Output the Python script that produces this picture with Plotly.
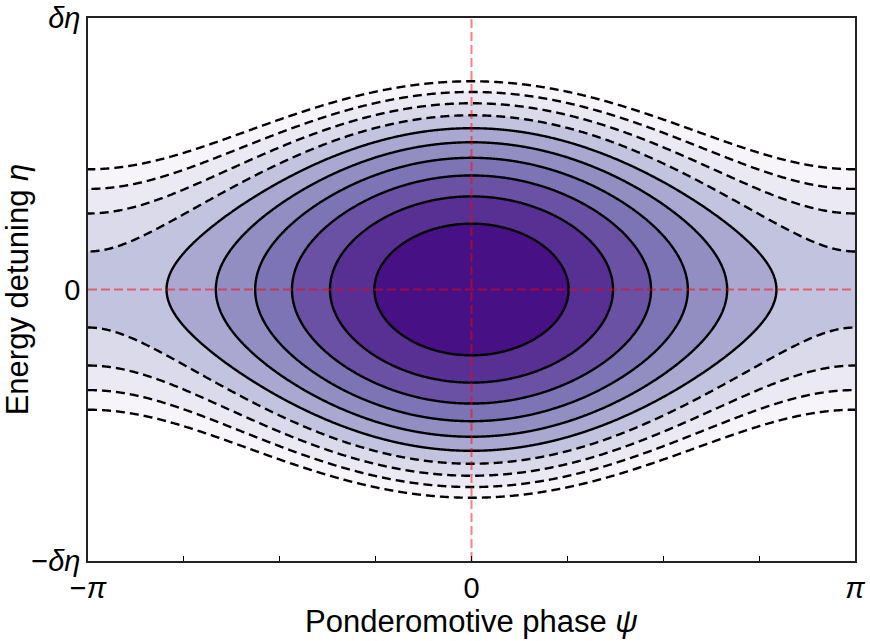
import numpy as np
import plotly.graph_objects as go

# Pendulum Hamiltonian H(psi, eta) = K * eta^2 + (1 - cos psi), eta in units of delta-eta
K_ETA = 5.1
SOLID_LEVELS = [0.3, 0.6, 0.9, 1.2, 1.5, 1.8]      # closed (trapped) orbits
DASHED_LEVELS = [2.1, 2.4, 2.7, 3.0]              # open (passing) orbits
LEVEL_STEP = 0.3

# colorbrewer "Purples" stops
PURPLES = ["#fcfbfd", "#efedf5", "#dadaeb", "#bcbddc", "#9e9ac8",
           "#807dba", "#6a51a3", "#54278f", "#3f007d"]

X_TICKVALS = [-np.pi, -3*np.pi/4, -np.pi/2, -np.pi/4, 0, np.pi/4, np.pi/2, 3*np.pi/4, np.pi]
X_TICKTEXT = ["\u2212<i>\u03c0</i>", "", "", "", "0", "", "", "", "<i>\u03c0</i>"]
Y_TICKVALS = [-1, 0, 1]
Y_TICKTEXT = ["\u2212<i>\u03b4\u03b7</i>", "0", "<i>\u03b4\u03b7</i>"]


def hex_rgb(h):
    h = h.lstrip("#")
    return np.array([int(h[i:i + 2], 16) for i in (0, 2, 4)], float)


def purples(t):
    pos = t * (len(PURPLES) - 1)
    i = min(int(np.floor(pos)), len(PURPLES) - 2)
    f = pos - i
    c = (1 - f) * hex_rgb(PURPLES[i]) + f * hex_rgb(PURPLES[i + 1])
    return "rgb(%d,%d,%d)" % tuple(np.round(c).astype(int))


all_levels = SOLID_LEVELS + DASHED_LEVELS
n_bands = len(all_levels)
# band k (between level k-1 and k) takes the colour at its midpoint, darkest at the centre
band_colors = [purples(1 - (k + 0.5) / n_bands) for k in range(n_bands)] + ["rgb(255,255,255)"]
nb = len(band_colors)
colorscale = []
for k, c in enumerate(band_colors):
    lo = max(0.0, (k - 0.5) / (nb - 1))
    hi = min(1.0, (k + 0.5) / (nb - 1))
    colorscale.append([lo, c])
    colorscale.append([hi, c])

psi = np.linspace(-np.pi, np.pi, 700)
eta = np.linspace(-1, 1, 600)
P, E = np.meshgrid(psi, eta)
H = K_ETA * E**2 + (1 - np.cos(P))

fig = go.Figure()

fig.add_trace(go.Contour(
    x=psi, y=eta, z=H,
    contours=dict(start=all_levels[0], end=all_levels[-1], size=LEVEL_STEP, coloring="fill"),
    colorscale=colorscale, showscale=False, line=dict(width=0), hoverinfo="skip",
))

fig.add_trace(go.Contour(
    x=psi, y=eta, z=H,
    contours=dict(start=SOLID_LEVELS[0], end=SOLID_LEVELS[-1], size=LEVEL_STEP, coloring="lines"),
    colorscale=[[0, "black"], [1, "black"]], showscale=False,
    line=dict(width=2.4, color="black"), hoverinfo="skip",
))

fig.add_trace(go.Contour(
    x=psi, y=eta, z=H,
    contours=dict(start=DASHED_LEVELS[0], end=DASHED_LEVELS[-1], size=LEVEL_STEP, coloring="lines"),
    colorscale=[[0, "black"], [1, "black"]], showscale=False,
    line=dict(width=2.4, color="black", dash="9px,5px"), hoverinfo="skip",
))

# reference axes through the fixed point
red = "rgba(255,0,0,0.5)"
fig.add_trace(go.Scatter(x=[-np.pi, np.pi], y=[0, 0], mode="lines",
                         line=dict(color=red, width=2, dash="9px,4px"), hoverinfo="skip"))
fig.add_trace(go.Scatter(x=[0, 0], y=[-1, 1], mode="lines",
                         line=dict(color=red, width=2, dash="9px,4px"), hoverinfo="skip"))

tick_font = dict(family="Liberation Sans, Arial, sans-serif", size=29, color="black")
title_font = dict(family="Liberation Sans, Arial, sans-serif", size=31, color="black")
fig.update_layout(
    width=870, height=641,
    margin=dict(l=88, r=15, t=18, b=80),
    paper_bgcolor="white", plot_bgcolor="white",
    showlegend=False, font=tick_font,
    xaxis=dict(range=[-np.pi, np.pi], tickvals=X_TICKVALS, ticktext=X_TICKTEXT,
               ticks="inside", ticklen=5, tickwidth=1, tickcolor="black",
               showgrid=False, zeroline=False, showline=True, linecolor="#222",
               linewidth=1.5, mirror=True, tickfont=tick_font, automargin=False,
               title=dict(text="Ponderomotive phase <i>\u03c8</i>", font=title_font, standoff=2)),
    yaxis=dict(range=[-1, 1], tickvals=Y_TICKVALS, ticktext=Y_TICKTEXT,
               ticks="", showgrid=False, zeroline=False, showline=True, linecolor="#222",
               linewidth=1.5, mirror=True, tickfont=tick_font, automargin=False,
               ticklabelstandoff=0,
               title=dict(text="Energy detuning <i>\u03b7</i>", font=title_font, standoff=0)),
)

fig.write_html("out.html")
